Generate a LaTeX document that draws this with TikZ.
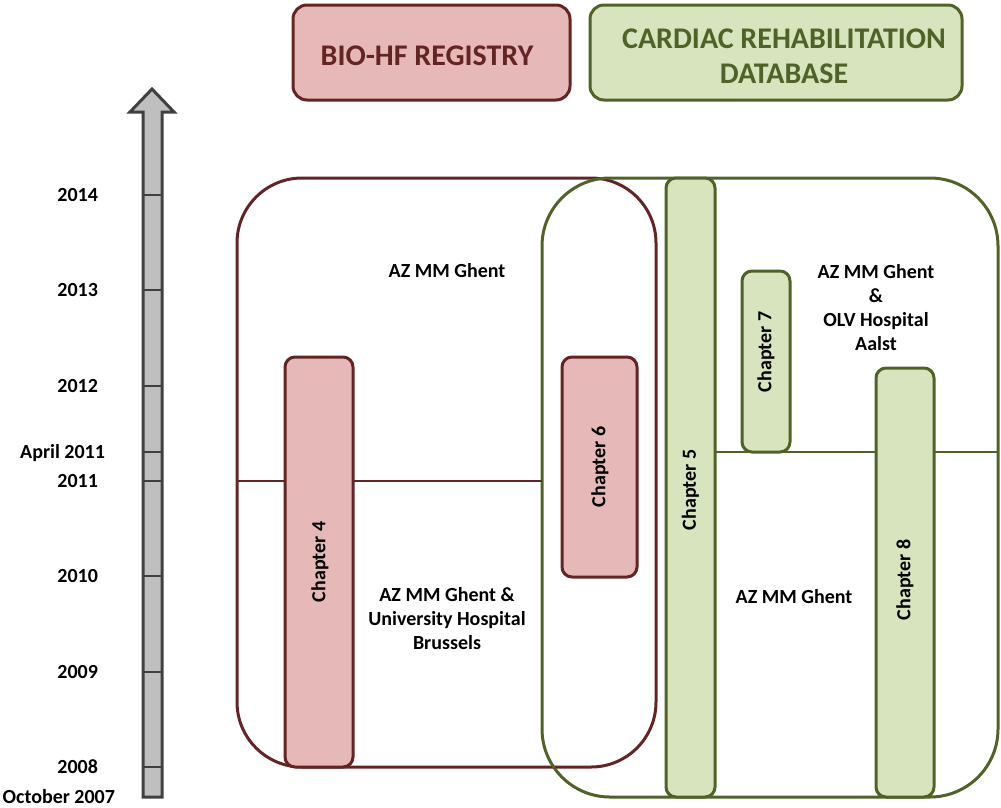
\documentclass[tikz,border=0pt]{standalone}
\usepackage{fontspec}
\setmainfont{Carlito}
\definecolor{hfred}{HTML}{632523}
\definecolor{hfpink}{HTML}{E6B9B8}
\definecolor{crgreen}{HTML}{4F6228}
\definecolor{crfill}{HTML}{D7E4BD}
\definecolor{axfill}{HTML}{BFBFBF}
\definecolor{axline}{HTML}{404040}
\tikzset{
  every node/.style={outer sep=0pt, inner sep=0pt},
  txt/.style={font=\fontsize{20}{24}\selectfont\bfseries, align=center, text=black},
  yearlbl/.style={font=\fontsize{20}{24}\selectfont\bfseries, anchor=east, text=black},
  chaptxt/.style={font=\fontsize{20}{24}\selectfont\bfseries, rotate=90, text=black},
  titlebox/.style={draw, line width=3pt, rounded corners=14pt},
  titletxt/.style={font=\fontsize{30}{35}\selectfont\bfseries, align=center},
  redtitle/.style={titlebox, draw=hfred, fill=hfpink},
  greentitle/.style={titlebox, draw=crgreen, fill=crfill},
  bigred/.style={draw=hfred, line width=3pt, rounded corners=65pt},
  biggreen/.style={draw=crgreen, line width=3pt, rounded corners=68pt},
  redchap/.style={draw=hfred, fill=hfpink, line width=3pt, rounded corners=10pt},
  greenchap/.style={draw=crgreen, fill=crfill, line width=3pt, rounded corners=10pt},
  redline/.style={draw=hfred, line width=2pt},
  greenline/.style={draw=crgreen, line width=2pt},
  tick/.style={draw=axline, line width=2.5pt}
}
\begin{document}
\begin{tikzpicture}[x=1pt,y=-1pt]
\useasboundingbox (0,0) rectangle (1001,807);
% timeline axis
\draw[fill=axfill, draw=axline, line width=3pt, line join=miter]
  (143,797) -- (143,112) -- (130,112) -- (152,89) -- (174,112) -- (162,112) -- (162,797) -- cycle;
\foreach \yy in {195,290,386,452,481,576,672,767}
  \draw[tick] (143,\yy) -- (162,\yy);
\node[yearlbl] (y2014) at (98,195) {2014};
\node[yearlbl] (y2013) at (98,290) {2013};
\node[yearlbl] (y2012) at (98,386) {2012};
\node[yearlbl] (yapr) at (105,453) {April 2011};
\node[yearlbl] (y2011) at (98,481) {2011};
\node[yearlbl] (y2010) at (98,576) {2010};
\node[yearlbl] (y2009) at (98,672) {2009};
\node[yearlbl] (y2008) at (98,767) {2008};
\node[yearlbl] (yoct) at (115,797) {October 2007};
% titles
\node[redtitle, minimum width=277pt, minimum height=95pt] (biot) at (431.5,52.5) {};
\node[titletxt, text=hfred] (biotxt) at (427,56) {BIO-HF REGISTRY};
\node[greentitle, minimum width=372pt, minimum height=95pt] (crt) at (776,52.5) {};
\node[titletxt, text=crgreen] (crtxt) at (784,56) {CARDIAC REHABILITATION\\DATABASE};
% big regions
\node[bigred, minimum width=419pt, minimum height=589pt] (biobig) at (446.5,472.5) {};
\node[biggreen, minimum width=456pt, minimum height=619pt] (crbig) at (770,487.5) {};
% dividing lines
\coordinate (c2011) at (0,481);
\coordinate (capr) at (0,452);
\draw[redline] (biobig.west |- c2011) -- (crbig.west |- c2011);
% chapters
\node[redchap, minimum width=68pt, minimum height=410pt] (ch4) at (319,562) {};
\node[redchap, minimum width=75pt, minimum height=220pt] (ch6) at (599.5,467) {};
\node[greenchap, minimum width=49pt, minimum height=619pt] (ch5) at (690.5,487.5) {};
\draw[greenline] (ch5.east |- capr) -- (crbig.east |- capr);
\node[greenchap, minimum width=48pt, minimum height=181pt] (ch7) at (766,361.5) {};
\node[greenchap, minimum width=58pt, minimum height=429pt] (ch8) at (905,582.5) {};
\node[chaptxt] (ch4t) at (320,562) {Chapter 4};
\node[chaptxt] (ch6t) at (600,467) {Chapter 6};
\node[chaptxt] (ch5t) at (690.5,490) {Chapter 5};
\node[chaptxt] (ch7t) at (766,352) {Chapter 7};
\node[chaptxt] (ch8t) at (905,580) {Chapter 8};
% site labels
\node[txt] (s1) at (447,271) {AZ MM Ghent};
\node[txt] (s2) at (447,619) {AZ MM Ghent \&\\University Hospital\\Brussels};
\node[txt] (s3) at (876,308) {AZ MM Ghent\\\&\\OLV Hospital\\Aalst};
\node[txt] (s4) at (794,597) {AZ MM Ghent};
\end{tikzpicture}
\end{document}
